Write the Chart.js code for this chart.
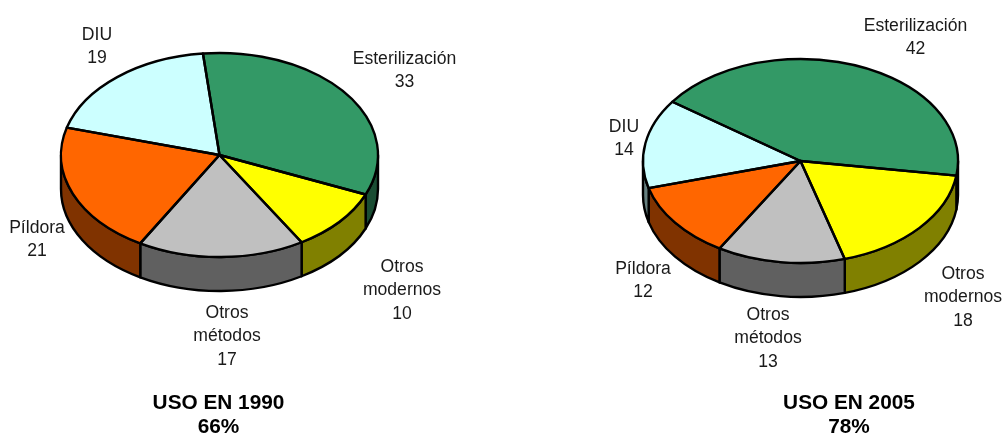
<!DOCTYPE html>
<html>
<head>
<meta charset="utf-8">
<title>Uso de anticonceptivos</title>
<script src="https://cdn.jsdelivr.net/npm/chart.js@4/dist/chart.umd.min.js"></script>
<style>
  html, body { margin: 0; padding: 0; background: #fff; overflow: hidden; }
  canvas { position: absolute; top: 0; }
  #pie1990 { left: 0; }
  #pie2005 { left: 503px; }
</style>
</head>
<body>
<canvas id="pie1990"></canvas>
<canvas id="pie2005"></canvas>
<script>
const categories = ['Esterilización', 'Otros modernos', 'Otros métodos', 'Píldora', 'DIU'];
const values1990 = [33, 10, 17, 21, 19];
const values2005 = [42, 18, 13, 12, 14];
const title1990 = ['USO EN 1990', '66%'];
const title2005 = ['USO EN 2005', '78%'];

const topColors = ['#339966', '#ffff00', '#c0c0c0', '#ff6600', '#ccffff'];
const sideColors = ['#1a4d33', '#808000', '#606060', '#803300', '#668080'];

const canvasH = 439;
const lineH = 23.5;

// pie lying flat: top face is the chart's arcs squashed on y, wall is drawn under it
const tilt3d = {
  id: 'tilt3d',
  beforeDatasetsDraw(chart, args, opts) {
    const ctx = chart.ctx;
    const arcs = chart.getDatasetMeta(0).data;
    ctx.save();
    ctx.lineWidth = 2.4;
    ctx.strokeStyle = '#000';
    ctx.lineJoin = 'round';
    arcs.forEach((arc, i) => {
      const a0 = Math.max(arc.startAngle, 0);
      const a1 = Math.min(arc.endAngle, Math.PI);
      if (a1 <= a0) return;
      ctx.beginPath();
      ctx.ellipse(arc.x, opts.cy, arc.outerRadius, opts.ry, 0, a0, a1);
      ctx.ellipse(arc.x, opts.cy + opts.depth, arc.outerRadius, opts.ry, 0, a1, a0, true);
      ctx.closePath();
      ctx.fillStyle = sideColors[i];
      ctx.fill();
      ctx.stroke();
    });
    ctx.restore();
    const arc = arcs[0];
    ctx.save();
    ctx.translate(0, opts.cy);
    ctx.scale(1, opts.ry / arc.outerRadius);
    ctx.translate(0, -arc.y);
  },
  afterDatasetsDraw(chart, args, opts) {
    const ctx = chart.ctx;
    ctx.restore();
    ctx.save();
    ctx.lineWidth = 2.4;
    ctx.strokeStyle = '#000';
    ctx.lineJoin = 'round';
    chart.getDatasetMeta(0).data.forEach(arc => {
      ctx.beginPath();
      ctx.moveTo(arc.x, opts.cy);
      ctx.ellipse(arc.x, opts.cy, arc.outerRadius, opts.ry, 0, arc.startAngle, arc.endAngle);
      ctx.closePath();
      ctx.stroke();
    });
    ctx.restore();
  }
};

const pieText = {
  id: 'pieText',
  afterDraw(chart, args, opts) {
    const ctx = chart.ctx;
    ctx.save();
    ctx.fillStyle = '#1a1a1a';
    ctx.textAlign = 'center';
    ctx.textBaseline = 'middle';
    ctx.font = '17.6px "Liberation Sans", Arial, sans-serif';
    opts.values.forEach((v, i) => {
      const lines = categories[i].split(' ').concat(String(v));
      lines.forEach((t, j) => ctx.fillText(t, opts.labelAt[i][0], opts.labelAt[i][1] + j * lineH));
    });
    ctx.fillStyle = '#000';
    ctx.font = 'bold 20.8px "Liberation Sans", Arial, sans-serif';
    opts.title.forEach((t, j) => ctx.fillText(t, opts.titleAt[0], opts.titleAt[1] + j * 24));
    ctx.restore();
  }
};

function makePie(id, values, title, g) {
  const el = document.getElementById(id);
  el.width = g.width;
  el.height = canvasH;
  el.style.width = g.width + 'px';
  el.style.height = canvasH + 'px';
  new Chart(el, {
    type: 'pie',
    data: {
      labels: categories,
      datasets: [{ data: values, backgroundColor: topColors, borderWidth: 0, clip: false }]
    },
    options: {
      responsive: false,
      animation: false,
      rotation: g.rotation,
      layout: {
        padding: {
          left: g.cx - g.rx,
          right: g.width - g.cx - g.rx,
          top: 20,
          bottom: canvasH - 20 - 2 * g.rx
        }
      },
      plugins: {
        legend: { display: false },
        tooltip: { enabled: false },
        tilt3d: { cy: g.cy, ry: g.ry, depth: g.depth },
        pieText: { values: values, title: title, labelAt: g.labelAt, titleAt: g.titleAt }
      }
    },
    plugins: [tilt3d, pieText]
  });
}

makePie('pie1990', values1990, title1990, {
  width: 503, cx: 219.5, cy: 155, rx: 158.5, ry: 102, depth: 34, rotation: -6,
  labelAt: [[404.5, 59], [402, 266.7], [227, 313], [37, 227.7], [97, 34.7]],
  titleAt: [218.5, 403]
});
makePie('pie2005', values2005, title2005, {
  width: 504, cx: 297.5, cy: 161, rx: 157.5, ry: 102, depth: 34, rotation: -54.5,
  labelAt: [[412.5, 25.7], [460, 274], [265, 315], [140, 268.7], [121, 126.7]],
  titleAt: [346, 403]
});
</script>
</body>
</html>
